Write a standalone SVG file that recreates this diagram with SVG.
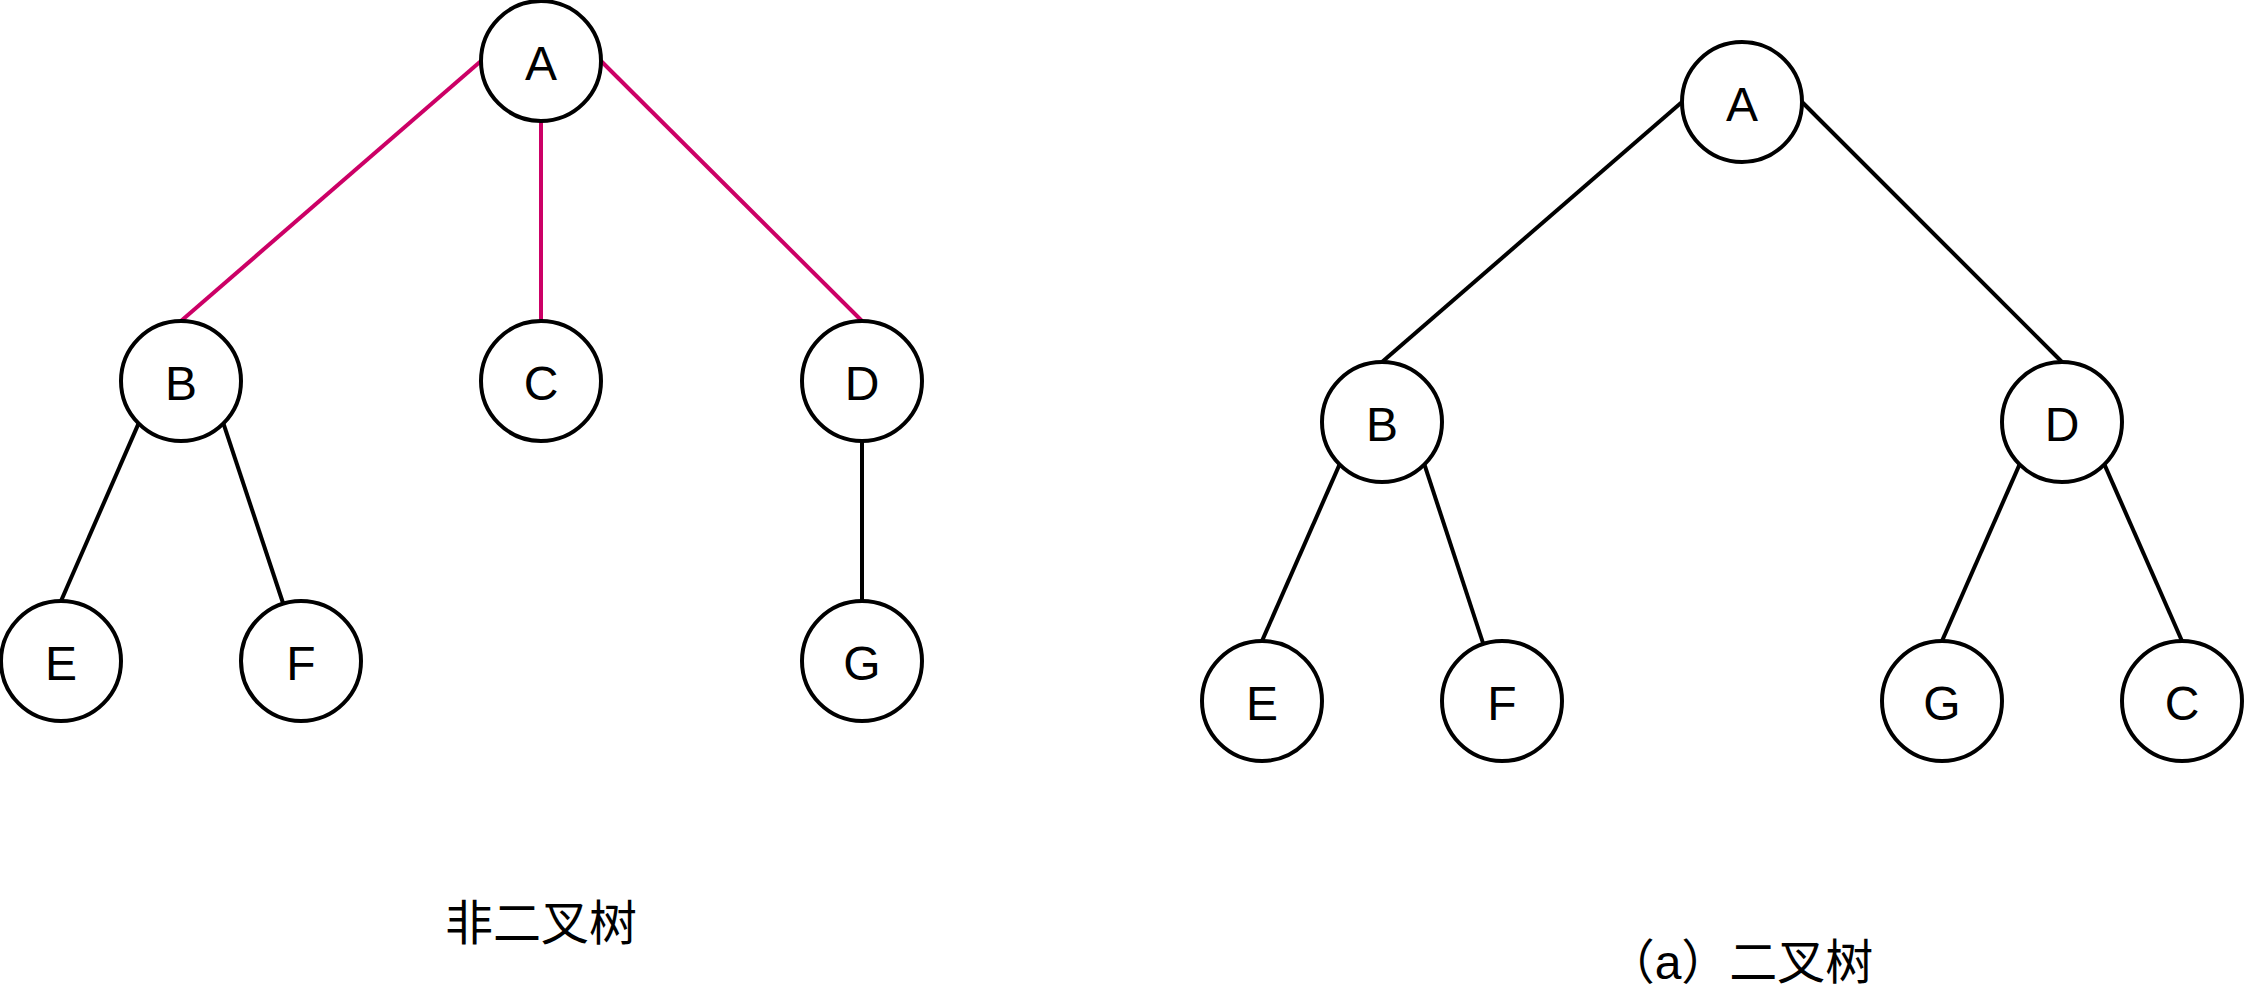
<svg xmlns="http://www.w3.org/2000/svg" width="2248" height="1008" viewBox="0 0 2248 1008">
  <style>
    .node circle { fill: #ffffff; stroke: #000000; stroke-width: 4; }
    .node text { font-family: "Liberation Sans", Arial, sans-serif; font-size: 48px; text-anchor: middle; fill: #000000; }
    .edge { stroke: #000000; stroke-width: 4; fill: none; }
    .edge.hl { stroke: #CC0066; }
    .caption { font-family: "Liberation Sans", "Noto Sans CJK SC", sans-serif; font-size: 48px; text-anchor: middle; fill: #000000; }
  </style>
  <rect width="2248" height="1008" fill="#ffffff"/>

  <!-- connectors -->
  <g id="connectors">
    <!-- general tree -->
    <line class="edge hl" x1="481" y1="61" x2="181" y2="321"/>
    <line class="edge hl" x1="541" y1="121" x2="541" y2="321"/>
    <line class="edge hl" x1="601" y1="61" x2="862" y2="321"/>
    <line class="edge" x1="138.6" y1="423.4" x2="61" y2="601"/>
    <line class="edge" x1="223.4" y1="423.4" x2="283" y2="603"/>
    <line class="edge" x1="862" y1="441" x2="862" y2="601"/>
    <!-- binary tree -->
    <line class="edge" x1="1682" y1="102" x2="1382" y2="362"/>
    <line class="edge" x1="1802" y1="102" x2="2062" y2="362"/>
    <line class="edge" x1="1339.6" y1="464.4" x2="1262" y2="641"/>
    <line class="edge" x1="1424.4" y1="464.4" x2="1483" y2="643"/>
    <line class="edge" x1="2019.6" y1="464.4" x2="1942" y2="641"/>
    <line class="edge" x1="2104.4" y1="464.4" x2="2182" y2="641"/>
  </g>

  <!-- general tree nodes -->
  <g id="t1-A" class="node"><circle cx="541" cy="61" r="60"/><text x="541" y="80">A</text></g>
  <g id="t1-B" class="node"><circle cx="181" cy="381" r="60"/><text x="181" y="400">B</text></g>
  <g id="t1-C" class="node"><circle cx="541" cy="381" r="60"/><text x="541" y="400">C</text></g>
  <g id="t1-D" class="node"><circle cx="862" cy="381" r="60"/><text x="862" y="400">D</text></g>
  <g id="t1-E" class="node"><circle cx="61" cy="661" r="60"/><text x="61" y="680">E</text></g>
  <g id="t1-F" class="node"><circle cx="301" cy="661" r="60"/><text x="301" y="680">F</text></g>
  <g id="t1-G" class="node"><circle cx="862" cy="661" r="60"/><text x="862" y="680">G</text></g>

  <!-- binary tree nodes -->
  <g id="t2-A" class="node"><circle cx="1742" cy="102" r="60"/><text x="1742" y="121">A</text></g>
  <g id="t2-B" class="node"><circle cx="1382" cy="422" r="60"/><text x="1382" y="441">B</text></g>
  <g id="t2-D" class="node"><circle cx="2062" cy="422" r="60"/><text x="2062" y="441">D</text></g>
  <g id="t2-E" class="node"><circle cx="1262" cy="701" r="60"/><text x="1262" y="720">E</text></g>
  <g id="t2-F" class="node"><circle cx="1502" cy="701" r="60"/><text x="1502" y="720">F</text></g>
  <g id="t2-G" class="node"><circle cx="1942" cy="701" r="60"/><text x="1942" y="720">G</text></g>
  <g id="t2-C" class="node"><circle cx="2182" cy="701" r="60"/><text x="2182" y="720">C</text></g>

  <!-- captions -->
  <text id="caption-left" class="caption" x="541" y="940">非二叉树</text>
  <text id="caption-right" class="caption" x="1740" y="979">（a）二叉树</text>
</svg>
